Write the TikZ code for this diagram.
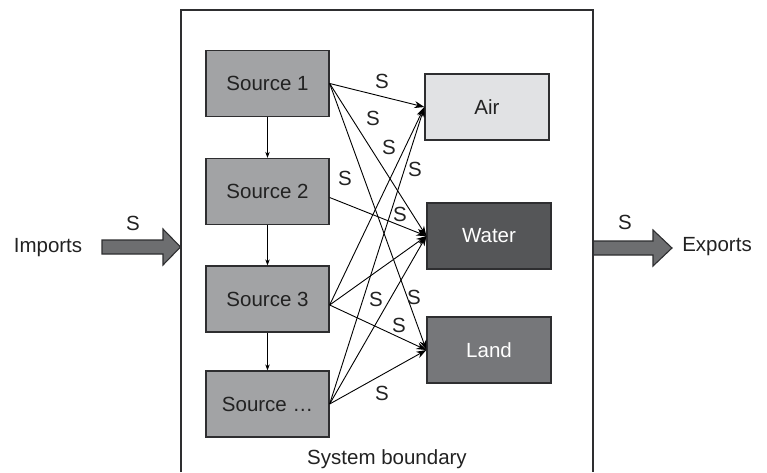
\documentclass[tikz,border=0pt]{standalone}
\usepackage{fontspec}
\setmainfont{Liberation Sans}
\usetikzlibrary{arrows.meta,calc}
\definecolor{srcfill}{HTML}{A2A3A5}
\definecolor{airfill}{HTML}{E1E2E4}
\definecolor{waterfill}{HTML}{555658}
\definecolor{landfill}{HTML}{76777A}
\definecolor{arrowfill}{HTML}{6D6E70}
\definecolor{boxline}{HTML}{2E2E30}
\definecolor{textdark}{HTML}{222222}
\begin{document}
\begin{tikzpicture}[x=1pt,y=-1pt,
  font=\fontsize{20.5}{24}\selectfont,
  box/.style={draw=boxline,line width=1.3pt,minimum width=123pt,minimum height=66pt,inner sep=0pt,text=textdark},
  src/.style={box,fill=srcfill},
  sink/.style={box,minimum width=124pt},
  flow/.style={draw=black,line width=0.9pt,-{Stealth[length=10pt,width=7pt]}},
  down/.style={draw=black,line width=0.9pt,-{Stealth[length=6pt,width=4.5pt]}},
  lbl/.style={inner sep=0pt,text=textdark},
  block/.style={fill=arrowfill,draw=boxline,line width=1.1pt,line join=miter},
  bound/.style={draw=boxline,line width=1.3pt}]
\useasboundingbox (0,0) rectangle (767,472);

% sources
\node[src] (s1) at (267.5,83.5) {Source 1};
\node[src] (s2) at (267.5,191.5) {Source 2};
\node[src] (s3) at (267.5,299) {Source 3};
\node[src] (s4) at (267.5,404) {Source …};

% sinks
\node[sink,fill=airfill] (air) at (487,107) {Air};
\node[sink,fill=waterfill,text=white] (water) at (489,236) {Water};
\node[sink,fill=landfill,text=white] (land) at (489,350) {Land};

% origins
\coordinate (o1) at (s1.east);
\coordinate (o2) at ([yshift=-6pt]s2.east);
\coordinate (o3) at ([yshift=-6pt]s3.east);
\coordinate (o4) at (s4.east);

% vertical arrows
\draw[down] (s1.south) -- (s2.north);
\draw[down] (s2.south) -- (s3.north);
\draw[down] (s3.south) -- (s4.north);

% flows
\draw[flow] (o1) -- (air.west);
\draw[flow] (o1) -- (water.west);
\draw[flow] (o1) -- (land.west);
\draw[flow] (o2) -- (water.west);
\draw[flow] (o3) -- (air.west);
\draw[flow] (o3) -- (water.west);
\draw[flow] (o3) -- (land.west);
\draw[flow] (o4) -- (air.west);
\draw[flow] (o4) -- (water.west);
\draw[flow] (o4) -- (land.west);

% S labels
\node[lbl] (l1) at (382,81) {S};
\node[lbl] (l2) at (373,118) {S};
\node[lbl] (l3) at (389,147) {S};
\node[lbl] (l4) at (415,169) {S};
\node[lbl] (l5) at (345,178) {S};
\node[lbl] (l6) at (400,214) {S};
\node[lbl] (l7) at (376,299) {S};
\node[lbl] (l8) at (414,297) {S};
\node[lbl] (l9) at (399,325) {S};
\node[lbl] (l10) at (382,393) {S};

% imports / exports
\draw[block] (102,240) -- (163,240) -- (163,229) -- (180.5,247) -- (163,265) -- (163,254) -- (102,254) -- cycle;
\draw[block] (593,241) -- (653,241) -- (653,230) -- (672,248) -- (653,266) -- (653,255) -- (593,255) -- cycle;
\node[lbl] (imp) at (48,248) {Imports};
\node[lbl] (impS) at (133,223) {S};
\node[lbl] (exp) at (717,247) {Exports};
\node[lbl] (expS) at (625,222) {S};

% boundary
\draw[bound] (181,472) -- (181,10) -- (593,10) -- (593,472);
\node[lbl] (sb) at (387,459) {System boundary};
\end{tikzpicture}
\end{document}
